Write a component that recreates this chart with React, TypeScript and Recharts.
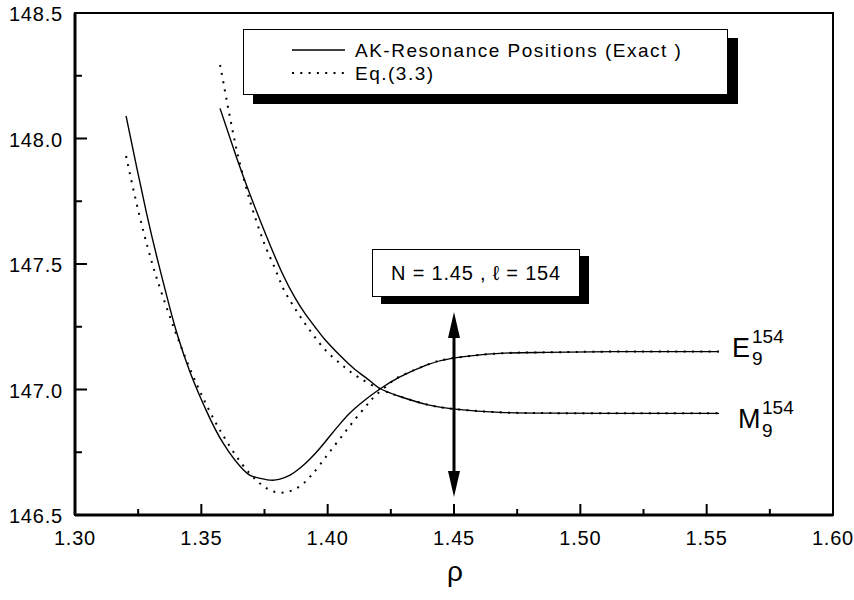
import React from 'react'
import { LineChart, Line, XAxis, YAxis, ReferenceLine, ReferenceArea } from 'recharts'

// rho values and resonance positions
const exactEX = [1.3202, 1.3244, 1.3284, 1.3323, 1.3365, 1.3403, 1.3455, 1.3521, 1.3587, 1.3666, 1.3716, 1.3772, 1.3811, 1.3851, 1.3891, 1.393, 1.397, 1.4009, 1.4049, 1.4088, 1.4128, 1.4168, 1.4207, 1.4286, 1.4393, 1.4496, 1.4682, 1.4868, 1.5129, 1.5549]
const exactEY = [148.09, 147.886, 147.699, 147.532, 147.365, 147.225, 147.07, 146.913, 146.785, 146.68, 146.65, 146.639, 146.643, 146.659, 146.687, 146.723, 146.767, 146.815, 146.863, 146.906, 146.942, 146.974, 147.002, 147.05, 147.098, 147.125, 147.144, 147.148, 147.151, 147.151]

const exactMX = [1.3574, 1.364, 1.3693, 1.3759, 1.3824, 1.3871, 1.391, 1.395, 1.3989, 1.4049, 1.4108, 1.4168, 1.4207, 1.4286, 1.4393, 1.4504, 1.4682, 1.4868, 1.5129, 1.5549]
const exactMY = [148.12, 147.922, 147.776, 147.608, 147.455, 147.365, 147.303, 147.249, 147.199, 147.135, 147.08, 147.034, 147.004, 146.972, 146.94, 146.922, 146.909, 146.906, 146.905, 146.905]

const approxEX = [1.3202, 1.3234, 1.3269, 1.3305, 1.3343, 1.3389, 1.3416, 1.3462, 1.3508, 1.3554, 1.36, 1.366, 1.3715, 1.3747, 1.3778, 1.3811, 1.3844, 1.3877, 1.391, 1.3938, 1.397, 1.4009, 1.4057, 1.4104, 1.4152, 1.4191, 1.4247, 1.4286, 1.4393, 1.4496, 1.4682, 1.4868, 1.5129, 1.5549]
const approxEY = [147.93, 147.784, 147.637, 147.504, 147.384, 147.252, 147.18, 147.066, 146.964, 146.873, 146.794, 146.704, 146.641, 146.614, 146.596, 146.589, 146.593, 146.606, 146.631, 146.661, 146.701, 146.753, 146.815, 146.876, 146.934, 146.978, 147.026, 147.052, 147.098, 147.125, 147.144, 147.148, 147.151, 147.151]

const approxMX = [1.3574, 1.3587, 1.36, 1.3613, 1.3633, 1.3653, 1.368, 1.3706, 1.3739, 1.3765, 1.3794, 1.3824, 1.3858, 1.3897, 1.3941, 1.3993, 1.4056, 1.4121, 1.4207, 1.4286, 1.4393, 1.4504, 1.4682, 1.4868, 1.5129, 1.5549]
const approxMY = [148.293, 148.225, 148.153, 148.086, 147.986, 147.898, 147.795, 147.707, 147.609, 147.543, 147.476, 147.403, 147.343, 147.282, 147.22, 147.155, 147.098, 147.049, 147.002, 146.972, 146.94, 146.922, 146.909, 146.906, 146.905, 146.905]

const xTicks = [1.3, 1.325, 1.35, 1.375, 1.4, 1.425, 1.45, 1.475, 1.5, 1.525, 1.55, 1.575, 1.6]
const yTicks = [146.5, 146.75, 147.0, 147.25, 147.5, 147.75, 148.0, 148.25, 148.5]

const legendLabels = ['AK-Resonance Positions (Exact )', 'Eq.(3.3)']
const annotation = 'N = 1.45 , \u2113 = 154'
const arrowRho = 1.45
const arrowTop = 147.309
const arrowBottom = 146.572

const FONT = '"Liberation Sans", Arial, Helvetica, sans-serif'
const DOTS = '2 6.3'

const toPoints = (xs: number[], ys: number[]) => xs.map((x, i) => ({ x, y: ys[i] }))

const isMajor = (v: number, step: number) => Math.abs(v / step - Math.round(v / step)) < 1e-6

function XTick({ x, y, payload }: any) {
	const v = payload.value as number
	const major = isMajor(v, 0.05)
	return (
		<g>
			<line x1={x} x2={x} y1={y} y2={y - (major ? 11 : 6)} stroke="#000" strokeWidth={2} />
			{major && (
				<text x={x} y={y + 30} textAnchor="middle" fontSize={20} fontFamily={FONT} letterSpacing={0.8} fill="#000">
					{v.toFixed(2)}
				</text>
			)}
		</g>
	)
}

function YTick({ x, y, payload }: any) {
	const v = payload.value as number
	const major = isMajor(v, 0.5)
	return (
		<g>
			<line x1={x} x2={x + (major ? 12 : 7)} y1={y} y2={y} stroke="#000" strokeWidth={2} />
			{major && (
				<text x={x - 12} y={y + 8} textAnchor="end" fontSize={20} fontFamily={FONT} letterSpacing={0.8} fill="#000">
					{v.toFixed(1)}
				</text>
			)}
		</g>
	)
}

function DoubleArrow(p: any) {
	const { x1, y1, y2 } = p
	const top = Math.min(y1, y2)
	const bot = Math.max(y1, y2)
	return (
		<g>
			<line x1={x1} x2={x1} y1={top + 20} y2={bot - 20} stroke="#000" strokeWidth={3} />
			<polygon points={`${x1},${top} ${x1 - 6},${top + 26} ${x1 + 6},${top + 26}`} fill="#000" />
			<polygon points={`${x1},${bot} ${x1 - 6},${bot - 26} ${x1 + 6},${bot - 26}`} fill="#000" />
		</g>
	)
}

export default function App() {
	return (
		<div style={{ position: 'absolute', left: 0, top: 0, width: 854, height: 600, background: '#fff', fontFamily: FONT }}>
			<LineChart width={854} height={600} margin={{ top: 13, right: 21, left: 0, bottom: 25 }}>
				<XAxis
					dataKey="x"
					type="number"
					domain={[1.3, 1.6]}
					ticks={xTicks}
					interval={0}
					allowDataOverflow
					height={60}
					tickSize={0}
					tickMargin={0}
					tickLine={false}
					tick={<XTick />}
					axisLine={{ stroke: '#000', strokeWidth: 3 }}
				/>
				<YAxis
					type="number"
					domain={[146.5, 148.5]}
					ticks={yTicks}
					interval={0}
					allowDataOverflow
					width={75}
					tickSize={0}
					tickMargin={0}
					tickLine={false}
					tick={<YTick />}
					axisLine={{ stroke: '#000', strokeWidth: 3 }}
				/>
				<ReferenceArea x1={1.3} x2={1.6} y1={146.5} y2={148.5} fill="none" stroke="#000" strokeWidth={2} fillOpacity={0} />
				<Line data={toPoints(exactEX, exactEY)} dataKey="y" type="natural" stroke="#000" strokeWidth={1.4} dot={false} activeDot={false} isAnimationActive={false} />
				<Line data={toPoints(exactMX, exactMY)} dataKey="y" type="natural" stroke="#000" strokeWidth={1.4} dot={false} activeDot={false} isAnimationActive={false} />
				<Line data={toPoints(approxEX, approxEY)} dataKey="y" type="natural" stroke="#000" strokeWidth={2} strokeDasharray={DOTS} dot={false} activeDot={false} isAnimationActive={false} />
				<Line data={toPoints(approxMX, approxMY)} dataKey="y" type="natural" stroke="#000" strokeWidth={2} strokeDasharray={DOTS} dot={false} activeDot={false} isAnimationActive={false} />
				<ReferenceLine
					segment={[{ x: arrowRho, y: arrowTop }, { x: arrowRho, y: arrowBottom }]}
					shape={<DoubleArrow />}
				/>
			</LineChart>

			{/* legend box with drop shadow */}
			<div style={{ position: 'absolute', left: 243, top: 29, width: 485, height: 66, boxSizing: 'border-box', border: '1.5px solid #000', background: '#fff', boxShadow: '10px 9px 0 #000' }}>
				<svg width={485} height={66} style={{ position: 'absolute', left: -1.5, top: -1.5 }}>
					<line x1={49} x2={102} y1={21} y2={21} stroke="#000" strokeWidth={1.4} />
					<line x1={49} x2={102} y1={44} y2={44} stroke="#000" strokeWidth={2} strokeDasharray={DOTS} />
					<text x={112} y={28} fontSize={19} fontFamily={FONT} letterSpacing={1.5} fill="#000">{legendLabels[0]}</text>
					<text x={112} y={51} fontSize={19} fontFamily={FONT} letterSpacing={1.5} fill="#000">{legendLabels[1]}</text>
				</svg>
			</div>

			{/* parameter box */}
			<div style={{ position: 'absolute', left: 372, top: 249, width: 208, height: 48, boxSizing: 'border-box', border: '1.5px solid #000', background: '#fff', boxShadow: '9px 7px 0 #000', display: 'flex', alignItems: 'center', justifyContent: 'center', fontSize: 20, letterSpacing: 0.8 }}>
				{annotation}
			</div>

			<svg width={854} height={600} style={{ position: 'absolute', left: 0, top: 0, pointerEvents: 'none' }}>
				<text x={732} y={357} fontSize={27} fontFamily={FONT} fill="#000">E</text>
				<text x={752} y={343} fontSize={19} fontFamily={FONT} fill="#000">154</text>
				<text x={752} y={365} fontSize={19} fontFamily={FONT} fill="#000">9</text>
				<text x={738} y={428} fontSize={27} fontFamily={FONT} fill="#000">M</text>
				<text x={762} y={414} fontSize={19} fontFamily={FONT} fill="#000">154</text>
				<text x={762} y={437} fontSize={19} fontFamily={FONT} fill="#000">9</text>
				<text x={455} y={581} fontSize={28} fontFamily={FONT} textAnchor="middle" fill="#000">ρ</text>
			</svg>
		</div>
	)
}
